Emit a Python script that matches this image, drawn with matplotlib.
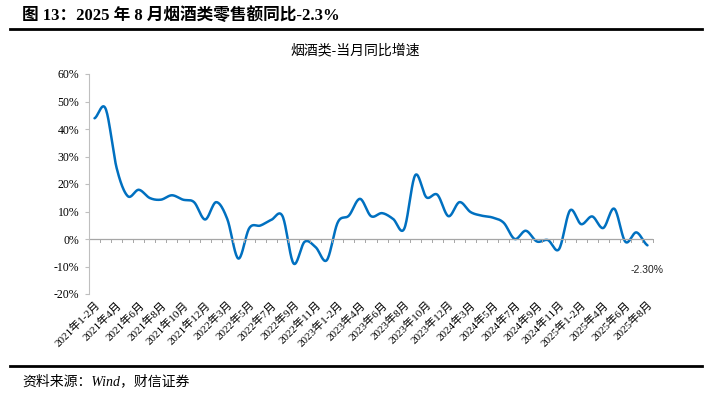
import matplotlib.pyplot as plt
import numpy as np

# months: 2021-01/02 .. 2025-08 (Jan+Feb reported together)
months = []
for yr in range(2021, 2026):
    months.append(f"{yr}年1-2月")
    last = 8 if yr == 2025 else 12
    for m in range(3, last + 1):
        months.append(f"{yr}年{m}月")

# 烟酒类零售额当月同比 (%)
yoy = [43.9, 47.4, 25.8, 15.6, 17.9, 14.9, 14.3, 15.9, 14.3, 13.4, 7.1,
       13.4, 7.3, -7.1, 4.0, 4.9, 7.0, 8.3, -8.9, -1.0, -3.0, -7.7,
       6.1, 8.5, 14.6, 8.3, 9.4, 7.3, 3.7, 23.2, 15.2, 16.1, 8.3,
       13.4, 9.8, 8.5, 7.8, 5.9, 0.0, 3.0, -0.9, -0.4, -3.7, 10.4,
       5.4, 8.2, 4.0, 11.0, -1.0, 2.4, -2.3]
last_label = "-2.30%"

yticks = [-20, -10, 0, 10, 20, 30, 40, 50, 60]


def smooth(y, n=20):
    # catmull-rom like excel's smoothed line
    y = np.asarray(y, float)
    p = np.concatenate([[y[0]], y, [y[-1]]])
    xs, ys = [], []
    for i in range(len(y) - 1):
        p0, p1, p2, p3 = p[i], p[i + 1], p[i + 2], p[i + 3]
        t = np.linspace(0, 1, n, endpoint=False)
        yy = 0.5 * (2 * p1 + (-p0 + p2) * t + (2 * p0 - 5 * p1 + 4 * p2 - p3) * t ** 2
                    + (-p0 + 3 * p1 - 3 * p2 + p3) * t ** 3)
        xs.append(i + t)
        ys.append(yy)
    xs.append([len(y) - 1])
    ys.append([y[-1]])
    return np.concatenate(xs), np.concatenate(ys)


serif_cjk = ['Liberation Serif', 'Noto Sans CJK SC']
sans_cjk = ['Liberation Sans', 'Noto Sans CJK SC']

fig = plt.figure(figsize=(7.14, 3.99), dpi=100)
ax = fig.add_axes([89 / 714, 1 - 294 / 399, 564 / 714, 220 / 399])

x = np.arange(len(yoy))
sx, sy = smooth(yoy)
ax.plot(sx, sy, color='#0070C0', lw=1.8, solid_capstyle='round')
ax.annotate(last_label, (x[-1], yoy[-1]), xytext=(0, -14), textcoords='offset points',
            ha='center', va='top', fontsize=7.5, family='Liberation Sans', color='#222222')

ax.set_xlim(-0.5, len(yoy) - 0.5)
ax.set_ylim(-20, 60)
ax.set_yticks(yticks)
ax.set_yticklabels([f"{v}%" for v in yticks], family='Liberation Serif', fontsize=8.5)

for s in ['top', 'right', 'bottom']:
    ax.spines[s].set_visible(False)
ax.spines['left'].set_color('#bfbfbf')
ax.axhline(0, color='#a6a6a6', lw=0.9)
ax.tick_params(axis='y', length=3, color='#bfbfbf', pad=4)

# minor ticks between categories on the zero line
for b in np.arange(-0.5, len(yoy), 1.0):
    ax.plot([b, b], [0, -1.2], color='#a6a6a6', lw=0.7, clip_on=False)

ax.set_xticks(x[::2])
ax.set_xticklabels(months[::2], rotation=45, ha='right', va='top', rotation_mode='anchor',
                   family=serif_cjk, fontsize=8)
ax.tick_params(axis='x', length=0, pad=4)

fig.text(22 / 714, 1 - 16 / 399, "图 13：2025 年 8 月烟酒类零售额同比-2.3%", family=serif_cjk,
         fontsize=12, fontweight='bold', va='center', ha='left')
fig.add_artist(plt.Line2D([10 / 714, 702 / 714], [1 - 29 / 399] * 2, color='black', lw=2))
fig.text(355 / 714, 1 - 50 / 399, "烟酒类-当月同比增速", family=sans_cjk, fontsize=10,
         va='center', ha='center')
fig.add_artist(plt.Line2D([10 / 714, 702 / 714], [1 - 366 / 399] * 2, color='black', lw=2))
fig.text(22 / 714, 1 - 381 / 399, "资料来源：Wind，财信证券", family=serif_cjk, fontsize=10,
         style='italic', va='center', ha='left')

fig.savefig('out.png', dpi=100)
